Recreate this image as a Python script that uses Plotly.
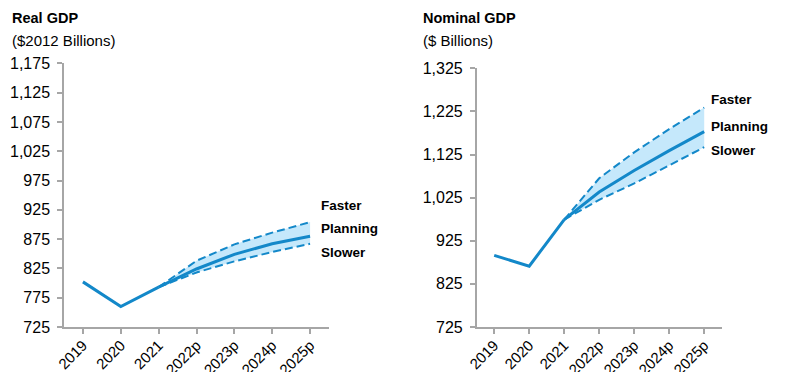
import plotly.graph_objects as go

# Categories on the x axis
years = ["2019", "2020", "2021", "2022p", "2023p", "2024p", "2025p"]
hist_years = ["2019", "2020", "2021"]
proj_years = ["2021", "2022p", "2023p", "2024p", "2025p"]

# Real GDP ($2012 billions)
real_hist = [802, 760, 793]
real_faster = [793, 838, 866, 886, 904]
real_planning = [793, 824, 849, 867, 880]
real_slower = [793, 818, 837, 853, 867]

# Nominal GDP ($ billions)
nom_hist = [891, 866, 974]
nom_faster = [974, 1070, 1130, 1184, 1234]
nom_planning = [974, 1038, 1088, 1134, 1178]
nom_slower = [974, 1020, 1058, 1100, 1142]

real_ticks = list(range(725, 1176, 50))
nom_ticks = list(range(725, 1326, 100))

LINE = "#1388c9"
BAND = "rgba(194,231,251,0.95)"
AXIS = "#a6a6a6"
FONT = "Liberation Sans, Arial, sans-serif"

W, H = 790, 372

fig = go.Figure()


def add_panel(xa, ya, hist, faster, planning, slower):
    # shaded range between slower and faster scenarios
    fig.add_trace(go.Scatter(x=proj_years, y=slower, xaxis=xa, yaxis=ya, mode="lines",
                             line=dict(color=LINE, width=2, dash="8px,4px"),
                             hoverinfo="skip", showlegend=False))
    fig.add_trace(go.Scatter(x=proj_years, y=faster, xaxis=xa, yaxis=ya, mode="lines",
                             line=dict(color=LINE, width=2, dash="8px,4px"),
                             fill="tonexty", fillcolor=BAND,
                             hoverinfo="skip", showlegend=False))
    fig.add_trace(go.Scatter(x=proj_years, y=planning, xaxis=xa, yaxis=ya, mode="lines",
                             line=dict(color=LINE, width=3), showlegend=False))
    fig.add_trace(go.Scatter(x=hist_years, y=hist, xaxis=xa, yaxis=ya, mode="lines",
                             line=dict(color=LINE, width=3), showlegend=False))


add_panel("x", "y", real_hist, real_faster, real_planning, real_slower)
add_panel("x2", "y2", nom_hist, nom_faster, nom_planning, nom_slower)

xaxis_common = dict(
    type="category", categoryorder="array", categoryarray=years,
    range=[-0.5, 6.5], showgrid=False, zeroline=False,
    showline=True, linecolor=AXIS, linewidth=1.5,
    ticks="outside", ticklen=5, tickcolor=AXIS, tickwidth=1.5,
    tickangle=-45, tickfont=dict(family=FONT, size=15, color="#000"),
    ticklabelstandoff=-3, automargin=False, fixedrange=True,
)
yaxis_common = dict(
    showgrid=False, zeroline=False, showline=True, linecolor=AXIS, linewidth=1.5,
    ticks="outside", ticklen=5, tickcolor=AXIS, tickwidth=1.5,
    tickformat=",d", tickfont=dict(family=FONT, size=16, color="#000"),
    ticklabelstandoff=4, automargin=False, fixedrange=True,
)

bottom = 1 - 327 / H
fig.update_layout(
    width=W, height=H,
    margin=dict(l=0, r=0, t=0, b=0),
    paper_bgcolor="white", plot_bgcolor="white",
    font=dict(family=FONT, color="#000"),
    xaxis=dict(domain=[64 / W, 329 / W], anchor="y", **xaxis_common),
    yaxis=dict(domain=[bottom, 1 - 63.3 / H], anchor="x", range=[725, 1175],
               tickvals=real_ticks, **yaxis_common),
    xaxis2=dict(domain=[476.7 / W, 721.7 / W], anchor="y2", **xaxis_common),
    yaxis2=dict(domain=[bottom, 1 - 68.3 / H], anchor="x2", range=[725, 1325],
                tickvals=nom_ticks, **yaxis_common),
)


def label(text, px, py, size, bold=False):
    fig.add_annotation(
        text=f"<b>{text}</b>" if bold else text,
        x=px / W, y=1 - py / H, xref="paper", yref="paper",
        xanchor="left", yanchor="middle", showarrow=False,
        font=dict(family=FONT, size=size, color="#000"),
    )


# Panel titles
label("Real GDP", 10, 18, 14.5, bold=True)
label("($2012 Billions)", 10, 40, 15)
label("Nominal GDP", 421, 18, 14.5, bold=True)
label("($ Billions)", 421, 40, 15)

# Scenario labels
for name, ly, ry in (("Faster", 205.7, 99.3), ("Planning", 228.3, 126.7), ("Slower", 252.3, 150.7)):
    label(name, 319, ly, 13.5, bold=True)
    label(name, 709, ry, 13.5, bold=True)

fig.write_html("out.html")
